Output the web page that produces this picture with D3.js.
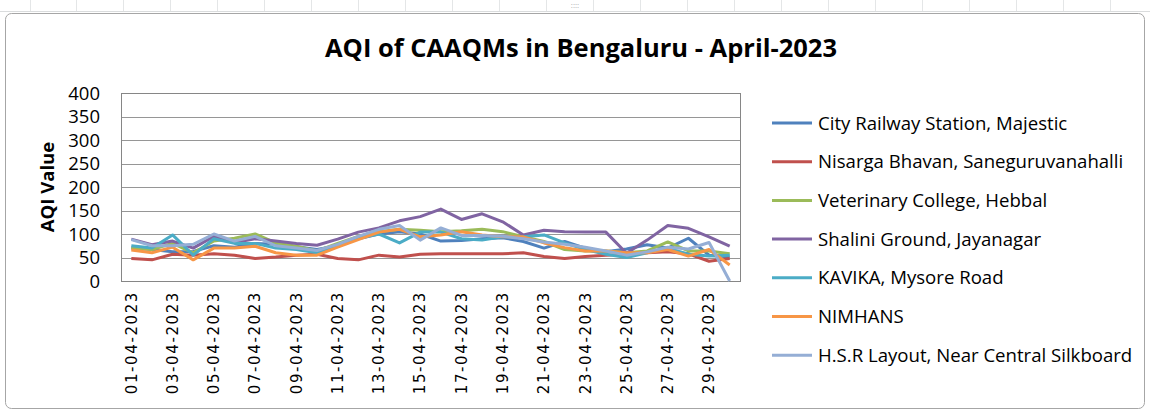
<!DOCTYPE html>
<html>
<head>
<meta charset="UTF-8">
<title>AQI of CAAQMs in Bengaluru</title>
<script src="https://d3js.org/d3.v7.min.js"></script>
<style>
html, body { margin: 0; padding: 0; background: #ffffff; }
svg { display: block; font-family: "Open Sans", "DejaVu Sans", sans-serif; }
</style>
</head>
<body>
<div id="chart"></div>
<script>
// days of April 2023
var days = [];
for (var i = 1; i <= 30; i++) days.push((i < 10 ? "0" + i : "" + i) + "-04-2023");

var stations = [
  "City Railway Station, Majestic",
  "Nisarga Bhavan, Saneguruvanahalli",
  "Veterinary College, Hebbal",
  "Shalini Ground, Jayanagar",
  "KAVIKA, Mysore Road",
  "NIMHANS",
  "H.S.R Layout, Near Central Silkboard"
];

var majestic  = [70, 67, 62, 63, 75, 72, 80, 78, 73, 67, 75, 90, 100, 105, 100, 85, 86, 90, 92, 84, 70, 84, 70, 62, 68, 77, 70, 91, 55, 51];
var nisarga   = [48, 45, 57, 55, 58, 55, 48, 51, 55, 57, 48, 45, 55, 51, 57, 58, 58, 58, 58, 60, 52, 48, 52, 55, 57, 60, 62, 58, 42, 48];
var hebbal    = [70, 67, 80, 60, 85, 91, 100, 81, 74, 64, 80, 95, 105, 110, 108, 105, 107, 110, 105, 94, 84, 67, 64, 64, 60, 64, 83, 64, 64, 58];
var shalini   = [89, 77, 85, 70, 95, 82, 90, 85, 80, 76, 89, 104, 113, 128, 137, 153, 131, 143, 126, 98, 108, 105, 104, 104, 59, 87, 118, 112, 94, 74];
var kavika    = [75, 70, 98, 55, 90, 80, 80, 70, 67, 60, 77, 91, 100, 81, 104, 104, 90, 87, 94, 94, 98, 81, 67, 57, 50, 60, 70, 57, 53, 55];
var nimhans   = [66, 60, 72, 45, 70, 70, 74, 60, 55, 55, 72, 88, 104, 110, 94, 98, 105, 98, 94, 94, 81, 71, 64, 64, 60, 60, 67, 53, 67, 34];
var hsr       = [88, 75, 75, 78, 100, 85, 95, 75, 70, 65, 78, 95, 110, 118, 87, 113, 97, 97, 95, 90, 83, 78, 72, 64, 55, 62, 72, 68, 82, 0];

var seriesValues = [majestic, nisarga, hebbal, shalini, kavika, nimhans, hsr];
var colors = ["#4F81BD", "#C0504D", "#9BBB59", "#8064A2", "#4BACC6", "#F79646", "#95AED5"];
var yTicks = [0, 50, 100, 150, 200, 250, 300, 350, 400];

var W = 1150, H = 412;
var plot = {left: 121, top: 93, right: 740, bottom: 281};

var svg = d3.select("#chart").append("svg")
  .attr("width", W)
  .attr("height", H);

// spreadsheet strip behind the chart
svg.append("rect").attr("x", 0).attr("y", 0).attr("width", W).attr("height", H).attr("fill", "#ffffff");
svg.append("line").attr("x1", 0).attr("x2", W).attr("y1", 11.5).attr("y2", 11.5).attr("stroke", "#dadcdd");
[30, 76, 123, 170, 217, 264, 311, 358, 405, 452, 499, 546, 593, 640, 687, 734, 781, 828, 875, 922, 969, 1016, 1063, 1110].forEach(function(x) {
  svg.append("line").attr("x1", x + 0.5).attr("x2", x + 0.5).attr("y1", 0).attr("y2", 11).attr("stroke", "#e4e6e7");
});
svg.append("text").attr("x", 575).attr("y", 8).attr("text-anchor", "middle")
  .attr("font-size", 8).attr("fill", "#b0b0b0").text("::::");

// chart area
svg.append("rect")
  .attr("x", 5.5).attr("y", 13.5)
  .attr("width", 1139).attr("height", 395)
  .attr("rx", 6)
  .attr("fill", "#ffffff")
  .attr("stroke", "#a6a6a6");

var x = d3.scaleBand().domain(days).range([plot.left, plot.right]);
var y = d3.scaleLinear().domain([0, 400]).range([plot.bottom, plot.top]);

// gridlines
svg.append("g")
  .selectAll("line")
  .data(yTicks)
  .enter()
  .append("line")
  .attr("x1", plot.left).attr("x2", plot.right)
  .attr("y1", function(d) { return Math.round(y(d)) + 0.5; })
  .attr("y2", function(d) { return Math.round(y(d)) + 0.5; })
  .attr("stroke", "#969696")
  .attr("stroke-width", 1);

svg.append("rect")
  .attr("x", plot.left + 0.5).attr("y", Math.round(plot.top) + 0.5)
  .attr("width", plot.right - plot.left).attr("height", plot.bottom - plot.top)
  .attr("fill", "none").attr("stroke", "#868686");

// y axis
var yAxis = d3.axisLeft(y).tickValues(yTicks).tickSize(0).tickPadding(21);
var gy = svg.append("g").attr("transform", "translate(" + plot.left + ",0)").call(yAxis);
gy.select(".domain").remove();
gy.selectAll("text").attr("font-size", 18.5).attr("fill", "#000").attr("dy", "0.35em")
  .attr("font-family", "'Open Sans', sans-serif");

// x axis, every second date
var xAxis = d3.axisBottom(x)
  .tickValues(days.filter(function(d, i) { return i % 2 === 0; }))
  .tickSize(0).tickPadding(0);
var gx = svg.append("g").attr("transform", "translate(0," + plot.bottom + ")").call(xAxis);
gx.select(".domain").remove();
gx.selectAll("text")
  .attr("font-size", 15)
  .attr("letter-spacing", "1.6px")
  .attr("fill", "#000")
  .attr("font-family", "'DejaVu Sans', sans-serif")
  .attr("text-anchor", "end")
  .attr("transform", "rotate(-90)")
  .attr("x", -10)
  .attr("y", 0)
  .attr("dy", "0.35em");

// axis title
svg.append("text")
  .attr("transform", "translate(54,187) rotate(-90)")
  .attr("text-anchor", "middle")
  .attr("font-size", 18.5)
  .attr("font-weight", "bold")
  .text("AQI Value");

// title
svg.append("text")
  .attr("x", 581).attr("y", 57)
  .attr("text-anchor", "middle")
  .attr("font-size", 25.5)
  .attr("font-weight", "bold")
  .text("AQI of CAAQMs in Bengaluru - April-2023");

// lines
var line = d3.line()
  .x(function(d, i) { return x(days[i]) + x.bandwidth() / 2; })
  .y(function(d) { return y(d); });

svg.append("g")
  .selectAll("path")
  .data(seriesValues)
  .enter()
  .append("path")
  .attr("d", line)
  .attr("fill", "none")
  .attr("stroke", function(d, i) { return colors[i]; })
  .attr("stroke-width", 3)
  .attr("stroke-linejoin", "round");

// legend
var legend = svg.append("g")
  .selectAll("g")
  .data(stations)
  .enter()
  .append("g")
  .attr("transform", function(d, i) { return "translate(772," + (123 + i * 38.7) + ")"; });

legend.append("line")
  .attr("x1", 0).attr("x2", 40)
  .attr("stroke", function(d, i) { return colors[i]; })
  .attr("stroke-width", 3);

legend.append("text")
  .attr("x", 46)
  .attr("dy", "0.35em")
  .attr("font-size", 18.6)
  .text(function(d) { return d; });
</script>
</body>
</html>
